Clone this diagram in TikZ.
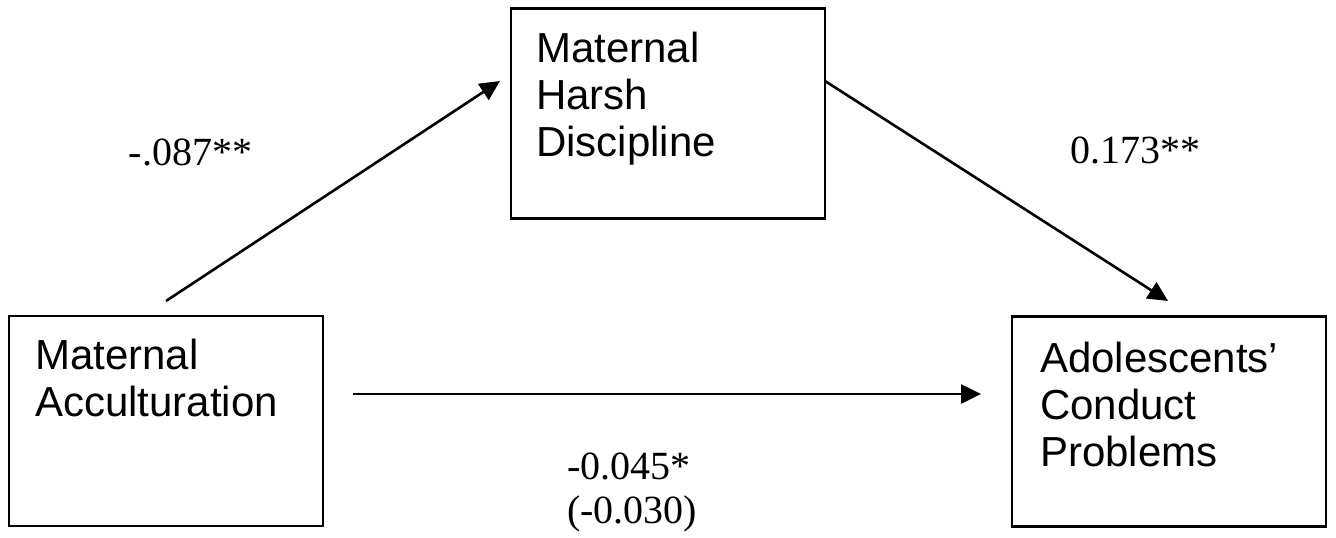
\documentclass[tikz,border=0pt]{standalone}
\usepackage{fontspec}
\setmainfont{Liberation Serif}
\newfontfamily\boxfont{Liberation Sans}
\usetikzlibrary{arrows.meta}
\begin{document}
\begin{tikzpicture}[x=1pt,y=-1pt,
  box/.style={draw=black, line width=2.4pt, minimum width=314pt, minimum height=210pt, anchor=north west, inner sep=0pt, outer sep=0pt},
  boxtext/.style={font=\boxfont\fontsize{42}{47}\selectfont, align=left, inner sep=0pt, anchor=north west},
  coef/.style={font=\fontsize{40}{44}\selectfont, inner sep=0pt, anchor=base west},
  pathline/.style={line width=2.6pt, -{Triangle[length=20pt,width=19pt]}}]
\useasboundingbox (0,0) rectangle (1336,538);
% boxes
\node[box] (mhd) at (511,8.3) {};
\node[box] (acc) at (9,316) {};
\node[box] (acp) at (1012,316.5) {};
% box texts
\node[boxtext] (mhdt) at (536,31.7) {Maternal\\Harsh\\Discipline};
\node[boxtext] (acct) at (35,339) {Maternal\\Acculturation};
\node[boxtext] (acpt) at (1040,341.7) {Adolescents’\\Conduct\\Problems};
% arrow end points
\coordinate (a1s) at (166,301);
\coordinate (a1e) at (500,81);
\coordinate (a2s) at (825,81);
\coordinate (a2e) at (1168,301);
\coordinate (a3s) at (353,394);
\coordinate (a3e) at (981,394);
\draw[pathline] (a1s) -- (a1e);
\draw[pathline] (a2s) -- (a2e);
\draw[pathline] (a3s) -- (a3e);
% coefficients
\node[coef] (l1) at (128.6,165.7) {-.087**};
\node[coef] (l2) at (1069.8,163) {0.173**};
\node[coef] (l3) at (567,479) {-0.045*};
\node[coef] (l4) at (567,523) {(-0.030)};
\end{tikzpicture}
\end{document}
